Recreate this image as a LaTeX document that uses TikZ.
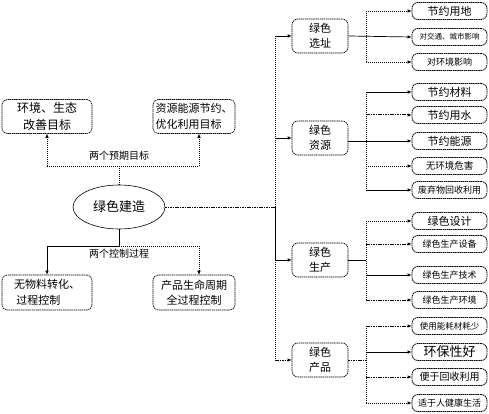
\documentclass[tikz,border=0pt]{standalone}
\usepackage{fontspec}
\setmainfont{Noto Sans CJK SC}
\usetikzlibrary{arrows.meta,shapes.geometric}
\newcommand{\fs}[1]{\fontsize{#1}{\dimexpr #1pt*14/10\relax}\selectfont}
\begin{document}
\begin{tikzpicture}[x=1pt,y=-1pt,
  dl/.style={dash pattern=on 1.2pt off 0.8pt, line width=0.6pt},
  dlt/.style={dash pattern=on 1.6pt off 0.8pt, line width=1pt},
  sl/.style={line width=0.7pt},
  arr/.style={-{Latex[length=4pt,width=3.5pt]}},
  box/.style={draw, rounded corners=5pt, dash pattern=on 1.5pt off 0.6pt, line width=0.6pt, align=center, inner sep=1pt},
  tbox/.style={box, minimum height=34pt},
  cat/.style={box, minimum width=56pt, minimum height=34pt, font=\fs{11}, rounded corners=6pt},
  leaf/.style={box, minimum width=75pt, minimum height=17pt, rounded corners=6pt, line width=0.8pt}]
\useasboundingbox[fill=white] (0,0) rectangle (489,414);
% main ellipse
\node[draw, ellipse, line width=0.6pt, minimum width=92pt, minimum height=44pt, font=\fs{13}] (E) at (119,207) {绿色建造};
% goal boxes
\node[tbox, minimum width=90pt, font=\fs{12}] (T1) at (47,116.5) {环境、生态\\改善目标};
\node[tbox, minimum width=82pt, font=\fs{11}, align=left] (T2) at (194,116.5) {资源能源节约、\\优化利用目标};
\node[tbox, minimum width=90pt, minimum height=35pt, font=\fs{11}, align=left] (B1) at (47,292.5) {无物料转化、\\\ 过程控制};
\node[tbox, minimum width=82pt, minimum height=35pt, font=\fs{11}] (B2) at (194,292.5) {产品生命周期\\全过程控制};
% top connectors
\coordinate (tj) at (119,166);
\coordinate (tl) at (47,166);
\coordinate (tr) at (199,166);
\draw[dl] (E.north) -- (tj);
\draw[dl] (tl) -- (tr);
\draw[dl,arr] (tl) -- (T1.south);
\draw[dl,arr] (tr) -- (tr |- T2.south);
\node[font=\fs{10}, fill=white, inner sep=0.5pt] (lt) at (119,156) {两个预期目标};
% bottom connectors
\coordinate (bj) at (119,246);
\coordinate (bl) at (47,246);
\coordinate (br) at (199,246);
\draw[dl] (E.south) -- (bj);
\draw[sl] (bl) -- (bj);
\draw[dl] (bj) -- (br);
\draw[sl,arr] (bl) -- (B1.north);
\draw[dl,arr] (br) -- (br |- B2.north);
\node[font=\fs{10}, fill=white, inner sep=0.5pt] (lb) at (119,254) {两个控制过程};
% categories
\node[cat] (C1) at (320,36) {绿色\\选址};
\node[cat] (C2) at (320,138) {绿色\\资源};
\node[cat] (C3) at (320,260) {绿色\\生产};
\node[cat] (C4) at (320,360) {绿色\\产品};
% main trunk
\coordinate (m0) at (275,207);
\coordinate (m1) at (275,36);
\coordinate (m2) at (275,138);
\coordinate (m3) at (275,260);
\coordinate (m4) at (275,360);
\draw[dlt] (E.east) -- (m0);
\draw[dl] (m1) -- (m0);
\draw[sl] (m0) -- (m3);
\draw[dl] (m3) -- (m4);
\draw[sl,arr] (m1) -- (C1.west);
\draw[sl,arr] (m2) -- (C2.west);
\draw[sl,arr] (m3) -- (C3.west);
\draw[dlt,arr] (m4) -- (C4.west);
% leaves
\node[leaf, font=\fs{11}] (L1) at (449.5,11) {节约用地};
\node[leaf, font=\fs{7.5}] (L2) at (449.5,37) {对交通、城市影响};
\node[leaf, font=\fs{9}] (L3) at (449.5,62) {对环境影响};
\node[leaf, font=\fs{11}] (L4) at (449.5,92) {节约材料};
\node[leaf, font=\fs{11}] (L5) at (449.5,115) {节约用水};
\node[leaf, font=\fs{11}] (L6) at (449.5,141) {节约能源};
\node[leaf, font=\fs{9.5}] (L7) at (449.5,166) {无环境危害};
\node[leaf, font=\fs{9}] (L8) at (449.5,190) {废弃物回收利用};
\node[leaf, font=\fs{11}] (L9) at (449.5,221) {绿色设计};
\node[leaf, font=\fs{9}] (L10) at (449.5,244) {绿色生产设备};
\node[leaf, font=\fs{9}] (L11) at (449.5,275) {绿色生产技术};
\node[leaf, font=\fs{9}] (L12) at (449.5,300) {绿色生产环境};
\node[leaf, font=\fs{8.5}] (L13) at (449.5,326) {使用能耗材耗少};
\node[leaf, font=\fs{13}] (L14) at (449.5,352) {环保性好};
\node[leaf, font=\fs{10}] (L15) at (449.5,377) {便于回收利用};
\node[leaf, font=\fs{9}] (L16) at (449.5,403) {适于人健康生活};
% branch 1
\coordinate (a1) at (366,11);
\coordinate (a3) at (366,62);
\draw[sl,arr] (C1.east) -- (L2.west);
\draw[dl] (a1) -- (a3);
\draw[dl,arr] (a1) -- (L1.west);
\draw[dl,arr] (a3) -- (L3.west);
% branch 2
\coordinate (b0) at (366,138);
\coordinate (b1) at (366,92);
\coordinate (b2) at (366,115);
\coordinate (b4) at (366,166);
\coordinate (b5) at (366,190);
\draw[dl] (b1) -- (b5);
\draw[sl,arr] (C2.east |- L6.west) -- (L6.west);
\draw[sl,arr] (b1) -- (L4.west);
\draw[dlt,arr] (b2) -- (L5.west);
\draw[dl,arr] (b4) -- (L7.west);
\draw[sl,arr] (b5) -- (L8.west);
% branch 3
\coordinate (c0) at (366,260);
\coordinate (c1) at (366,221);
\coordinate (c2) at (366,244);
\coordinate (c3) at (366,275);
\coordinate (c4) at (366,300);
\draw[sl] (C3.east) -- (c0);
\draw[dl] (c1) -- (c4);
\draw[dl,arr] (c1) -- (L9.west);
\draw[dlt,arr] (c2) -- (L10.west);
\draw[sl,arr] (c3) -- (L11.west);
\draw[dlt,arr] (c4) -- (L12.west);
% branch 4
\coordinate (d0) at (366,360);
\coordinate (d1) at (366,326);
\coordinate (d2) at (366,352);
\coordinate (d3) at (366,377);
\coordinate (d4) at (366,403);
\draw[dlt] (C4.east) -- (d0);
\draw[dl] (d1) -- (d4);
\draw[dlt,arr] (d1) -- (L13.west);
\draw[sl,arr] (d2) -- (L14.west);
\draw[dlt,arr] (d3) -- (L15.west);
\draw[dl,arr] (d4) -- (L16.west);
\end{tikzpicture}
\end{document}
